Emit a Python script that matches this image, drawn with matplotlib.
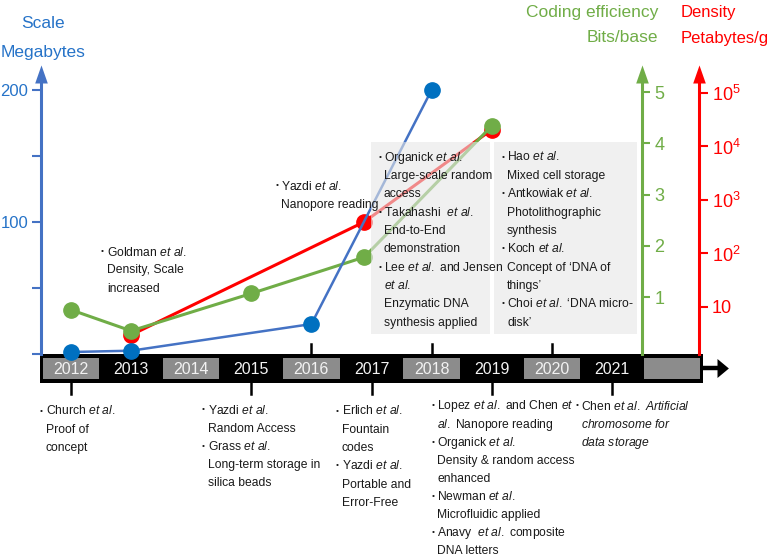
import matplotlib
matplotlib.use('Agg')
import matplotlib.pyplot as plt
from matplotlib.patches import Rectangle
from matplotlib.ticker import NullLocator

plt.rcParams['font.family'] = ['Liberation Sans', 'DejaVu Sans']
plt.rcParams['mathtext.fontset'] = 'custom'
plt.rcParams['mathtext.rm'] = 'Liberation Sans'
plt.rcParams['mathtext.it'] = 'Liberation Sans:italic'

# data
scale_years = [2012, 2013, 2016, 2018]
scale_mb = [1.5, 2.5, 22.7, 200]
coding_years = [2012, 2013, 2015, 2016.88, 2019]
coding_bits = [0.75, 0.34, 1.07, 1.78, 4.34]
density_years = [2013, 2016.88, 2019]
density_pbg = [3.0, 390, 20600]

timeline_years = list(range(2012, 2023))
year_labels = [str(y) for y in range(2012, 2022)] + ['']
ticks_above = [2016, 2018, 2020]
ticks_below = [2012, 2015, 2017, 2019, 2021]

red_ticks = [10, 1e2, 1e3, 1e4, 1e5]
red_labels = ['10', r'$\mathrm{10^{2}}$', r'$\mathrm{10^{3}}$', r'$\mathrm{10^{4}}$', r'$\mathrm{10^{5}}$']

EA = r'$\mathit{et\ al.}$'
notes_top = [
    (101, 107, 251, 18.0, ['• Goldman ' + EA, 'Density, Scale', 'increased']),
    (276, 281, 185, 18.3, ['• Yazdi ' + EA, 'Nanopore reading']),
    (379, 384, 156, 18.35, ['• Organick ' + EA, 'Large-scale random', 'access',
                           '• Takahashi  ' + EA, 'End-to-End', 'demonstration',
                           '• Lee ' + EA + ' and Jensen', EA, 'Enzymatic DNA', 'synthesis applied']),
    (502, 507, 156, 18.35, ['• Hao ' + EA, 'Mixed cell storage', '• Antkowiak ' + EA,
                           'Photolithographic', 'synthesis', '• Koch ' + EA,
                           'Concept of ‘DNA of', 'things’', '• Choi ' + EA + ' ‘DNA micro-', 'disk’']),
]
notes_bottom = [
    (40, 46, 410, 18.2, ['• Church ' + EA, 'Proof of', 'concept']),
    (202, 208, 409, 18.2, ['• Yazdi ' + EA, 'Random Access', '• Grass ' + EA,
                          'Long-term storage in', 'silica beads']),
    (336, 342, 410, 18.3, ['• Erlich ' + EA, 'Fountain', 'codes', '• Yazdi ' + EA,
                          'Portable and', 'Error-Free']),
    (432, 437, 405, 18.05, ['• Lopez ' + EA + ' and Chen ' + r'$\mathit{et}$',
                           r'$\mathit{al.}$ Nanopore reading', '• Organick ' + EA,
                           'Density & random access', 'enhanced', '• Newman ' + EA,
                           'Microfluidic applied', '• Anavy  ' + EA + ' composite', 'DNA letters']),
    (576, 581, 405, 18.3, ['• Chen ' + r'$\mathit{et\ al.\ Artificial}$',
                          r'$\mathit{chromosome\ for}$', r'$\mathit{data\ storage}$']),
]

BLUE_LINE = '#4472C4'
BLUE_MK = '#0070C0'
BLUE_TXT = '#2673C8'
GREEN = '#70AD47'
RED = '#FF0000'

W, H = 770, 558
fig = plt.figure(figsize=(W / 100, H / 100), dpi=100)

x0, x1 = 2011.5, 2022.45
ax = fig.add_axes([41 / W, 1 - 354 / H, 658 / W, 271 / H])
ax_r = ax.twinx()
ax_g = ax.twinx()
ax_r.set_zorder(1)
ax_g.set_zorder(2)
ax.set_zorder(3)
for a in (ax, ax_g, ax_r):
    a.patch.set_visible(False)
    a.set_xlim(x0, x1)
    for s in ('top', 'bottom', 'left', 'right'):
        a.spines[s].set_visible(False)
ax.set_xticks([])

# series
ax_r.plot(density_years, density_pbg, color=RED, lw=2.2, marker='o', ms=11, clip_on=False)
ax_g.plot(coding_years, coding_bits, color=GREEN, lw=2.2, marker='o', ms=11, clip_on=False)
ax.plot(scale_years, scale_mb, color=BLUE_LINE, lw=1.8, marker='o', ms=11,
        mfc=BLUE_MK, mec=BLUE_MK, clip_on=False)

# blue axis
ax.set_ylim(0, 205.3)
ax.spines['left'].set_visible(True)
ax.spines['left'].set_color(BLUE_LINE)
ax.spines['left'].set_linewidth(2.2)
ax.set_yticks([0, 50, 100, 150, 200], ['', '', '100', '', '200'])
ax.tick_params(axis='y', direction='out', length=6.3, width=1.5, color=BLUE_LINE,
               labelcolor=BLUE_TXT, labelsize=12, pad=3)

# green axis
ax_g.set_ylim(-0.112, 5.18)
ax_g.spines['right'].set_visible(True)
ax_g.spines['right'].set_position(('axes', (642 - 41) / 658))
ax_g.spines['right'].set_color(GREEN)
ax_g.spines['right'].set_linewidth(2.2)
ax_g.set_yticks([1, 2, 3, 4, 5])
ax_g.tick_params(axis='y', direction='out', length=6, width=1.5, color=GREEN,
                 labelcolor=GREEN, labelsize=13, pad=3)

# red axis (log)
ax_r.set_yscale('log')
ax_r.set_ylim(10 ** 0.121, 10 ** 5.187)
ax_r.spines['right'].set_visible(True)
ax_r.spines['right'].set_color(RED)
ax_r.spines['right'].set_linewidth(2.2)
ax_r.set_yticks(red_ticks, red_labels)
ax_r.yaxis.set_minor_locator(NullLocator())
ax_r.tick_params(axis='y', direction='out', length=6.3, width=1.5, color=RED,
                 labelcolor=RED, labelsize=13, pad=3)

# arrow heads on the vertical axes
tri_up = [(-0.35, 0), (0.35, 0), (0, 1)]
for a, xf, c in ((ax, 0, BLUE_LINE), (ax_g, (642 - 41) / 658, GREEN), (ax_r, 1, RED)):
    a.plot([xf], [1], transform=a.transAxes, marker=tri_up, ms=26, color=c,
           mec='none', clip_on=False)

# axis titles
fig.text(43 / W, 1 - 24 / H, 'Scale', ha='center', va='center', color=BLUE_TXT, fontsize=12.5)
fig.text(43 / W, 1 - 52 / H, 'Megabytes', ha='center', va='center', color=BLUE_TXT, fontsize=12.5)
fig.text(658 / W, 1 - 12 / H, 'Coding efficiency', ha='right', va='center', color=GREEN, fontsize=12.5)
fig.text(658 / W, 1 - 38 / H, 'Bits/base', ha='right', va='center', color=GREEN, fontsize=12.5)
fig.text(681 / W, 1 - 12 / H, 'Density', ha='left', va='center', color=RED, fontsize=12)
fig.text(681 / W, 1 - 38 / H, 'Petabytes/g', ha='left', va='center', color=RED, fontsize=12)

# timeline bar
tl = fig.add_axes([41 / W, 0, 658 / W, 204 / H])
tl.set_xlim(x0, x1)
tl.set_ylim(204, 0)
tl.axis('off')
tl.add_patch(Rectangle((2011.48, 0), 2022.52 - 2011.48, 29, fc='black', ec='none', clip_on=False))
for yr, lab in zip(timeline_years, year_labels):
    if yr % 2 == 0:
        tl.add_patch(Rectangle((yr - 0.47, 4), 0.94, 21, fc='#8c8c8c', ec='none', clip_on=False))
    tl.text(yr, 15, lab, ha='center', va='center', color='#f2f2f2', fontsize=11.5)
for yr in ticks_above:
    tl.plot([yr, yr], [0, -10], color='black', lw=1.8, clip_on=False)
for yr in ticks_below:
    tl.plot([yr, yr], [29, 40], color='black', lw=1.8, clip_on=False)
tl.plot([2022.52, 2022.78], [14, 14], color='black', lw=3.2, clip_on=False)
tl.plot([2022.75], [14], marker=[(0, -1), (0, 1), (1.2, 0)], ms=16.4, color='black',
        mec='none', clip_on=False)

# overlay for notes
ov = fig.add_axes([0, 0, 1, 1])
ov.set_xlim(0, W)
ov.set_ylim(H, 0)
ov.axis('off')
ov.set_zorder(6)
ov.add_patch(Rectangle((371, 142), 119, 192, fc='#e6e6e6', ec='none', alpha=0.6))
ov.add_patch(Rectangle((494, 142), 143, 192, fc='#e6e6e6', ec='none', alpha=0.6))


def note(xb, xt, y0, lh, lines):
    for i, line in enumerate(lines):
        y = y0 + i * lh
        if line.startswith('• '):
            ov.text(xb, y + 1, '•', fontsize=6, ha='left', va='center', color='#1a1a1a')
            line = line[2:]
        ov.text(xt, y + 4.5, line, fontsize=8.7, ha='left', va='baseline', color='#1a1a1a')


for xb, xt, y0, lh, lines in notes_top + notes_bottom:
    note(xb, xt, y0, lh, lines)

fig.savefig('out.png', dpi=100)
